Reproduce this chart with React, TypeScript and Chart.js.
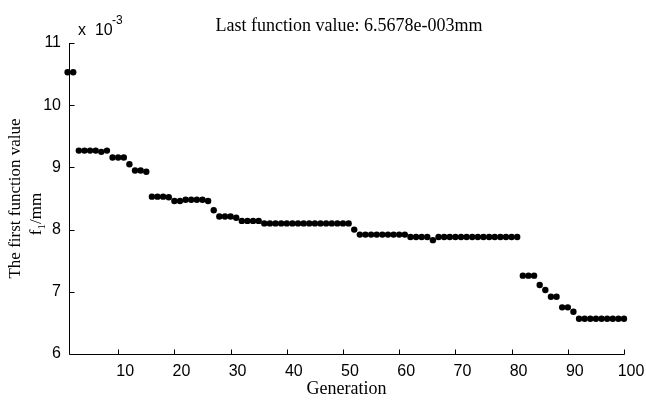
import React, { useEffect, useRef } from "react";
import { Chart, registerables } from "chart.js";

Chart.register(...registerables);

// Generation index (x) and first function value (×10^-3 mm)
const generations: number[] = [
  1, 2, 3, 4, 5, 6, 7, 8, 9, 10, 11, 12, 13, 14, 15, 16, 17, 18, 19, 20,
  21, 22, 23, 24, 25, 26, 27, 28, 29, 30, 31, 32, 33, 34, 35, 36, 37, 38, 39, 40,
  41, 42, 43, 44, 45, 46, 47, 48, 49, 50, 51, 52, 53, 54, 55, 56, 57, 58, 59, 60,
  61, 62, 63, 64, 65, 66, 67, 68, 69, 70, 71, 72, 73, 74, 75, 76, 77, 78, 79, 80,
  81, 82, 83, 84, 85, 86, 87, 88, 89, 90, 91, 92, 93, 94, 95, 96, 97, 98, 99, 100,
];

const fValues: number[] = [
  10.53, 10.53, 9.27, 9.27, 9.27, 9.27, 9.25, 9.27, 9.16, 9.16,
  9.16, 9.05, 8.95, 8.95, 8.93, 8.53, 8.53, 8.53, 8.52, 8.46,
  8.46, 8.48, 8.48, 8.48, 8.48, 8.46, 8.31, 8.21, 8.21, 8.21,
  8.19, 8.14, 8.14, 8.14, 8.14, 8.10, 8.10, 8.10, 8.10, 8.10,
  8.10, 8.10, 8.10, 8.10, 8.10, 8.10, 8.10, 8.10, 8.10, 8.10,
  8.10, 8.00, 7.92, 7.92, 7.92, 7.92, 7.92, 7.92, 7.92, 7.92,
  7.92, 7.88, 7.88, 7.88, 7.88, 7.83, 7.88, 7.88, 7.88, 7.88,
  7.88, 7.88, 7.88, 7.88, 7.88, 7.88, 7.88, 7.88, 7.88, 7.88,
  7.88, 7.26, 7.26, 7.26, 7.11, 7.03, 6.92, 6.92, 6.75, 6.75,
  6.68, 6.5678, 6.5678, 6.5678, 6.5678, 6.5678, 6.5678, 6.5678, 6.5678, 6.5678,
];

const xTicks: number[] = [10, 20, 30, 40, 50, 60, 70, 80, 90, 100];
const yTicks: number[] = [6, 7, 8, 9, 10, 11];

const titleText = "Last function value: 6.5678e-003mm";
const xLabel = "Generation";
const yLabelLine1 = "The first function value";

const SERIF = '"Liberation Serif", "Times New Roman", serif';
const SANS = '"Liberation Sans", Arial, Helvetica, sans-serif';

const decorPlugin = {
  id: "decor",
  afterDraw(chart: any) {
    const ctx = chart.ctx as CanvasRenderingContext2D;
    const xs = chart.scales.x;
    const ys = chart.scales.y;
    const area = chart.chartArea;
    const L = Math.round(area.left) + 0.5;
    const B = Math.round(area.bottom) + 0.5;
    const T = Math.round(ys.getPixelForValue(yTicks[yTicks.length - 1]));
    const R = Math.round(xs.getPixelForValue(xTicks[xTicks.length - 1]));
    ctx.save();
    ctx.strokeStyle = "#000";
    ctx.lineWidth = 1;
    ctx.beginPath();
    ctx.moveTo(L, T);
    ctx.lineTo(L, B);
    ctx.lineTo(R + 0.5, B);
    // inward ticks
    for (const v of yTicks) {
      const y = Math.round(ys.getPixelForValue(v)) + 0.5;
      ctx.moveTo(L, y);
      ctx.lineTo(L + 5, y);
    }
    for (const v of xTicks) {
      const x = Math.round(xs.getPixelForValue(v)) + 0.5;
      ctx.moveTo(x, B);
      ctx.lineTo(x, B - 5);
    }
    ctx.stroke();

    ctx.fillStyle = "#000";
    // exponent label
    ctx.font = `16px ${SANS}`;
    ctx.textAlign = "left";
    ctx.textBaseline = "alphabetic";
    ctx.fillText("x  10", 78, 35);
    ctx.font = `12px ${SANS}`;
    ctx.fillText("-3", 112, 24);

    // title
    ctx.font = `18px ${SERIF}`;
    ctx.textAlign = "center";
    ctx.fillText(titleText, 349, 31);

    // x label
    ctx.fillText(xLabel, (area.left + area.right) / 2, 394);

    // y label (rotated)
    ctx.save();
    ctx.translate(20, (area.top + area.bottom) / 2);
    ctx.rotate(-Math.PI / 2);
    ctx.font = `17px ${SERIF}`;
    ctx.textAlign = "center";
    ctx.fillText(yLabelLine1, 0, 0);
    ctx.restore();

    ctx.save();
    ctx.translate(41, 214);
    ctx.rotate(-Math.PI / 2);
    ctx.font = `17px ${SERIF}`;
    const wF = ctx.measureText("f").width;
    ctx.font = `11px ${SERIF}`;
    const w1 = ctx.measureText("1").width;
    ctx.font = `17px ${SERIF}`;
    const wRest = ctx.measureText("/mm").width;
    const total = wF + w1 + wRest;
    let cx = -total / 2;
    ctx.textAlign = "left";
    ctx.fillText("f", cx, 0);
    cx += wF;
    ctx.font = `11px ${SERIF}`;
    ctx.fillText("1", cx, 4);
    cx += w1;
    ctx.font = `17px ${SERIF}`;
    ctx.fillText("/mm", cx, 0);
    ctx.restore();

    ctx.restore();
  },
};

export default function App() {
  const canvasRef = useRef<HTMLCanvasElement | null>(null);

  useEffect(() => {
    const canvas = canvasRef.current;
    if (!canvas) return;
    const points = generations.map((g, i) => ({ x: g, y: fValues[i] }));
    const chart = new Chart(canvas, {
      type: "scatter",
      data: {
        datasets: [
          {
            data: points,
            backgroundColor: "#000",
            borderColor: "#000",
            pointRadius: 3.2,
            pointBorderWidth: 0,
            showLine: false,
            clip: false as any,
          },
        ],
      },
      options: {
        animation: false,
        responsive: false,
        devicePixelRatio: 1,
        layout: { padding: { left: 0, right: 22, top: 43, bottom: 0 } },
        plugins: {
          legend: { display: false },
          tooltip: { enabled: false },
          title: { display: false },
        },
        scales: {
          x: {
            type: "linear",
            min: 1.25,
            max: 100,
            grid: { display: false, drawTicks: false },
            border: { display: false },
            afterBuildTicks: (s: any) => {
              s.ticks = xTicks.map((v) => ({ value: v }));
            },
            afterFit: (s: any) => {
              s.height = 46;
            },
            ticks: {
              color: "#000",
              font: { family: SANS, size: 16 },
              padding: 8,
              labelOffset: 7,
              maxRotation: 0,
              autoSkip: false,
            },
          },
          y: {
            type: "linear",
            min: 6,
            max: 11,
            grid: { display: false, drawTicks: false },
            border: { display: false },
            afterBuildTicks: (s: any) => {
              s.ticks = yTicks.map((v) => ({ value: v }));
            },
            afterFit: (s: any) => {
              s.width = 69;
            },
            ticks: {
              color: "#000",
              font: { family: SANS, size: 16 },
              padding: 8,
            },
          },
        },
      },
      plugins: [decorPlugin],
    });
    return () => chart.destroy();
  }, []);

  return (
    <div style={{ position: "fixed", left: 0, top: 0, width: 646, height: 400, background: "#fff" }}>
      <canvas ref={canvasRef} width={646} height={400} style={{ width: 646, height: 400 }} />
    </div>
  );
}
